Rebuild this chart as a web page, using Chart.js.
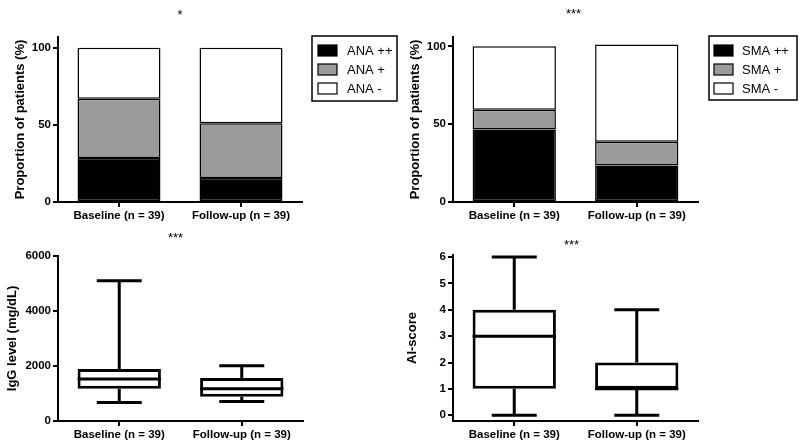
<!DOCTYPE html>
<html>
<head>
<meta charset="utf-8">
<script src="https://cdn.jsdelivr.net/npm/chart.js@4.4.0/dist/chart.umd.min.js"></script>
<style>
  html, body { margin: 0; padding: 0; background: #fff; }
  #wrap { position: relative; width: 800px; height: 446px; }
  canvas { position: absolute; }
</style>
</head>
<body>
<div id="wrap">
  <canvas id="ana-chart" width="400" height="223" style="left:0;top:0"></canvas>
  <canvas id="sma-chart" width="400" height="223" style="left:400px;top:0"></canvas>
  <canvas id="igg-chart" width="400" height="223" style="left:0;top:223px"></canvas>
  <canvas id="ai-chart" width="400" height="223" style="left:400px;top:223px"></canvas>
</div>
<script>
// groups on the x axis
const categories = ['Baseline (n = 39)', 'Follow-up (n = 39)'];

// ANA status, % of patients
const anaPlusPlus = [28.5, 15.5];
const anaPlus = [38.5, 35.5];
const anaMinus = [33, 49];

// SMA status, % of patients
const smaPlusPlus = [46.5, 23.5];
const smaPlus = [12.7, 15.2];
const smaMinus = [40.8, 62.5];

// IgG level (mg/dL) box plot stats
const iggMin = [670, 710];
const iggQ1 = [1170, 880];
const iggMedian = [1530, 1170];
const iggQ3 = [1890, 1560];
const iggMax = [5100, 2010];

// AI-score box plot stats
const aiMin = [0, 0];
const aiQ1 = [1, 1];
const aiMedian = [3, 1];
const aiQ3 = [4, 2];
const aiMax = [6, 4];

// y tick labels
const percentTicks = [0, 50, 100];
const iggTicks = [0, 2000, 4000, 6000];
const aiTicks = [0, 1, 2, 3, 4, 5, 6];

const FONT = "'Liberation Sans', Arial, sans-serif";
Chart.defaults.font.family = FONT;
Chart.defaults.color = '#000';

// significance stars above the plot
const stars = {
  id: 'stars',
  afterDraw(chart, args, o) {
    const ctx = chart.ctx, a = chart.chartArea;
    ctx.save();
    ctx.font = '13px ' + FONT;
    ctx.fillStyle = '#000';
    ctx.textAlign = 'center';
    ctx.textBaseline = 'alphabetic';
    ctx.fillText(o.text, (a.left + a.right) / 2 + (o.dx || 0), o.y);
    ctx.restore();
  }
};

// legend in a framed box (GraphPad style)
const boxLegend = {
  id: 'boxLegend',
  afterDraw(chart, args, o) {
    if (!o.show) return;
    const ctx = chart.ctx;
    ctx.save();
    ctx.strokeStyle = '#000';
    ctx.lineWidth = 1.5;
    ctx.strokeRect(o.x, o.y, o.w, o.h);
    ctx.font = '13px ' + FONT;
    ctx.textBaseline = 'middle';
    chart.data.datasets.forEach((ds, i) => {
      const cy = o.rowY + i * o.rowGap;
      ctx.fillStyle = ds.backgroundColor;
      ctx.fillRect(o.sx, cy - 5.5, 19, 11);
      ctx.lineWidth = 1.2;
      ctx.strokeRect(o.sx, cy - 5.5, 19, 11);
      ctx.fillStyle = '#000';
      ctx.fillText(ds.label, o.tx, cy + 0.5);
    });
    ctx.restore();
  }
};

// median, whiskers and caps for the floating-bar boxes
const whiskers = {
  id: 'whiskers',
  afterDatasetsDraw(chart, args, o) {
    if (!o.show) return;
    const ctx = chart.ctx, y = chart.scales.y;
    const meta = chart.getDatasetMeta(0);
    ctx.save();
    ctx.strokeStyle = '#000';
    ctx.lineWidth = 3;
    meta.data.forEach((bar, i) => {
      const hw = bar.width / 2, cw = hw * 0.54;
      const yMin = y.getPixelForValue(o.min[i]);
      const yQ1 = y.getPixelForValue(o.q1[i]);
      const yMed = y.getPixelForValue(o.median[i]);
      const yQ3 = y.getPixelForValue(o.q3[i]);
      const yMax = y.getPixelForValue(o.max[i]);
      ctx.beginPath();
      ctx.moveTo(bar.x - hw, yMed); ctx.lineTo(bar.x + hw, yMed);
      ctx.moveTo(bar.x, yQ3); ctx.lineTo(bar.x, yMax);
      ctx.moveTo(bar.x - cw, yMax); ctx.lineTo(bar.x + cw, yMax);
      ctx.moveTo(bar.x, yQ1); ctx.lineTo(bar.x, yMin);
      ctx.moveTo(bar.x - cw, yMin); ctx.lineTo(bar.x + cw, yMin);
      ctx.stroke();
    });
    ctx.restore();
  }
};

function xAxis(height, stacked) {
  return {
    stacked: stacked,
    offset: true,
    ticks: { padding: 2, font: { size: 11.5, weight: 'bold' }, color: '#000', maxRotation: 0, autoSkip: false },
    grid: { offset: false, drawOnChartArea: false, color: '#000', lineWidth: 2, tickLength: 5 },
    border: { color: '#000', width: 2 },
    afterFit: s => { s.height = height; }
  };
}

function yAxis(o) {
  return {
    stacked: o.stacked,
    min: o.min,
    max: o.max,
    ticks: { padding: 2, font: { size: 11.5, weight: 'bold' }, color: '#000', callback: v => String(v) },
    afterBuildTicks: s => { s.ticks = o.ticks.map(v => ({ value: v })); },
    afterFit: s => { s.width = o.axisX; },
    grid: { drawOnChartArea: false, color: '#000', lineWidth: 2, tickLength: 5 },
    border: { color: '#000', width: 2 },
    title: { display: true, text: o.title, color: '#000', font: { size: 13, weight: 'bold' }, padding: { top: o.titlePad, bottom: 0 } }
  };
}

function stackedSet(label, data, color) {
  return {
    label: label, data: data, backgroundColor: color,
    borderColor: '#000', borderWidth: 1.5, borderSkipped: false,
    barPercentage: 0.68, categoryPercentage: 1
  };
}

function stackedChart(id, labels, series, cfg) {
  const colors = ['#000000', '#9b9b9b', '#ffffff'];
  return new Chart(document.getElementById(id).getContext('2d'), {
    type: 'bar',
    data: {
      labels: categories,
      datasets: series.map((s, i) => stackedSet(labels[i], s, colors[i]))
    },
    options: {
      responsive: false,
      animation: false,
      events: [],
      layout: { padding: { left: 0, top: cfg.top, right: cfg.right, bottom: 0 } },
      scales: {
        x: xAxis(cfg.xh, true),
        y: yAxis({ stacked: true, min: 0, max: cfg.max, ticks: percentTicks, axisX: cfg.axisX,
                   title: 'Proportion of patients (%)', titlePad: cfg.titlePad })
      },
      plugins: {
        legend: { display: false },
        tooltip: { enabled: false },
        stars: { text: cfg.stars, y: cfg.starY, dx: cfg.starDx },
        boxLegend: cfg.legend,
        whiskers: { show: false }
      }
    },
    plugins: [stars, boxLegend, whiskers]
  });
}

function boxChart(id, stats, cfg) {
  return new Chart(document.getElementById(id).getContext('2d'), {
    type: 'bar',
    data: {
      labels: categories,
      datasets: [{
        label: cfg.title,
        data: stats.q1.map((v, i) => [v, stats.q3[i]]),
        backgroundColor: '#ffffff',
        borderColor: '#000',
        borderWidth: 3,
        borderSkipped: false,
        barPercentage: 0.68,
        categoryPercentage: 1
      }]
    },
    options: {
      responsive: false,
      animation: false,
      events: [],
      layout: { padding: { left: 0, top: cfg.top, right: cfg.right, bottom: 0 } },
      scales: {
        x: xAxis(cfg.xh, false),
        y: yAxis({ stacked: false, min: cfg.min, max: cfg.max, ticks: cfg.ticks, axisX: cfg.axisX,
                   title: cfg.title, titlePad: cfg.titlePad })
      },
      plugins: {
        legend: { display: false },
        tooltip: { enabled: false },
        stars: { text: '***', y: cfg.starY, dx: cfg.starDx },
        boxLegend: { show: false },
        whiskers: Object.assign({ show: true }, stats)
      }
    },
    plugins: [stars, boxLegend, whiskers]
  });
}

stackedChart('ana-chart', ['ANA ++', 'ANA +', 'ANA -'], [anaPlusPlus, anaPlus, anaMinus], {
  top: 37, right: 98, xh: 21, max: 107, axisX: 58, titlePad: 13,
  stars: '*', starY: 19, starDx: 0,
  legend: { show: true, x: 312, y: 36, w: 85, h: 65, sx: 318, tx: 347, rowY: 50.5, rowGap: 19 }
});

stackedChart('sma-chart', ['SMA ++', 'SMA +', 'SMA -'], [smaPlusPlus, smaPlus, smaMinus], {
  top: 37, right: 102, xh: 21, max: 106, axisX: 53, titlePad: 8,
  stars: '***', starY: 18, starDx: -2,
  legend: { show: true, x: 309, y: 36, w: 88, h: 64, sx: 314, tx: 342, rowY: 50.5, rowGap: 19 }
});

boxChart('igg-chart', { min: iggMin, q1: iggQ1, median: iggMedian, q3: iggQ3, max: iggMax }, {
  title: 'IgG level (mg/dL)', top: 33, right: 97, xh: 25, min: 0, max: 6000, ticks: iggTicks,
  axisX: 58, titlePad: 5, starY: 18.5, starDx: -5
});

boxChart('ai-chart', { min: aiMin, q1: aiQ1, median: aiMedian, q3: aiQ3, max: aiMax }, {
  title: 'AI-score', top: 32, right: 102, xh: 25, min: -0.22, max: 6.08, ticks: aiTicks,
  axisX: 53, titlePad: 5, starY: 25.5, starDx: -4
});
</script>
</body>
</html>
